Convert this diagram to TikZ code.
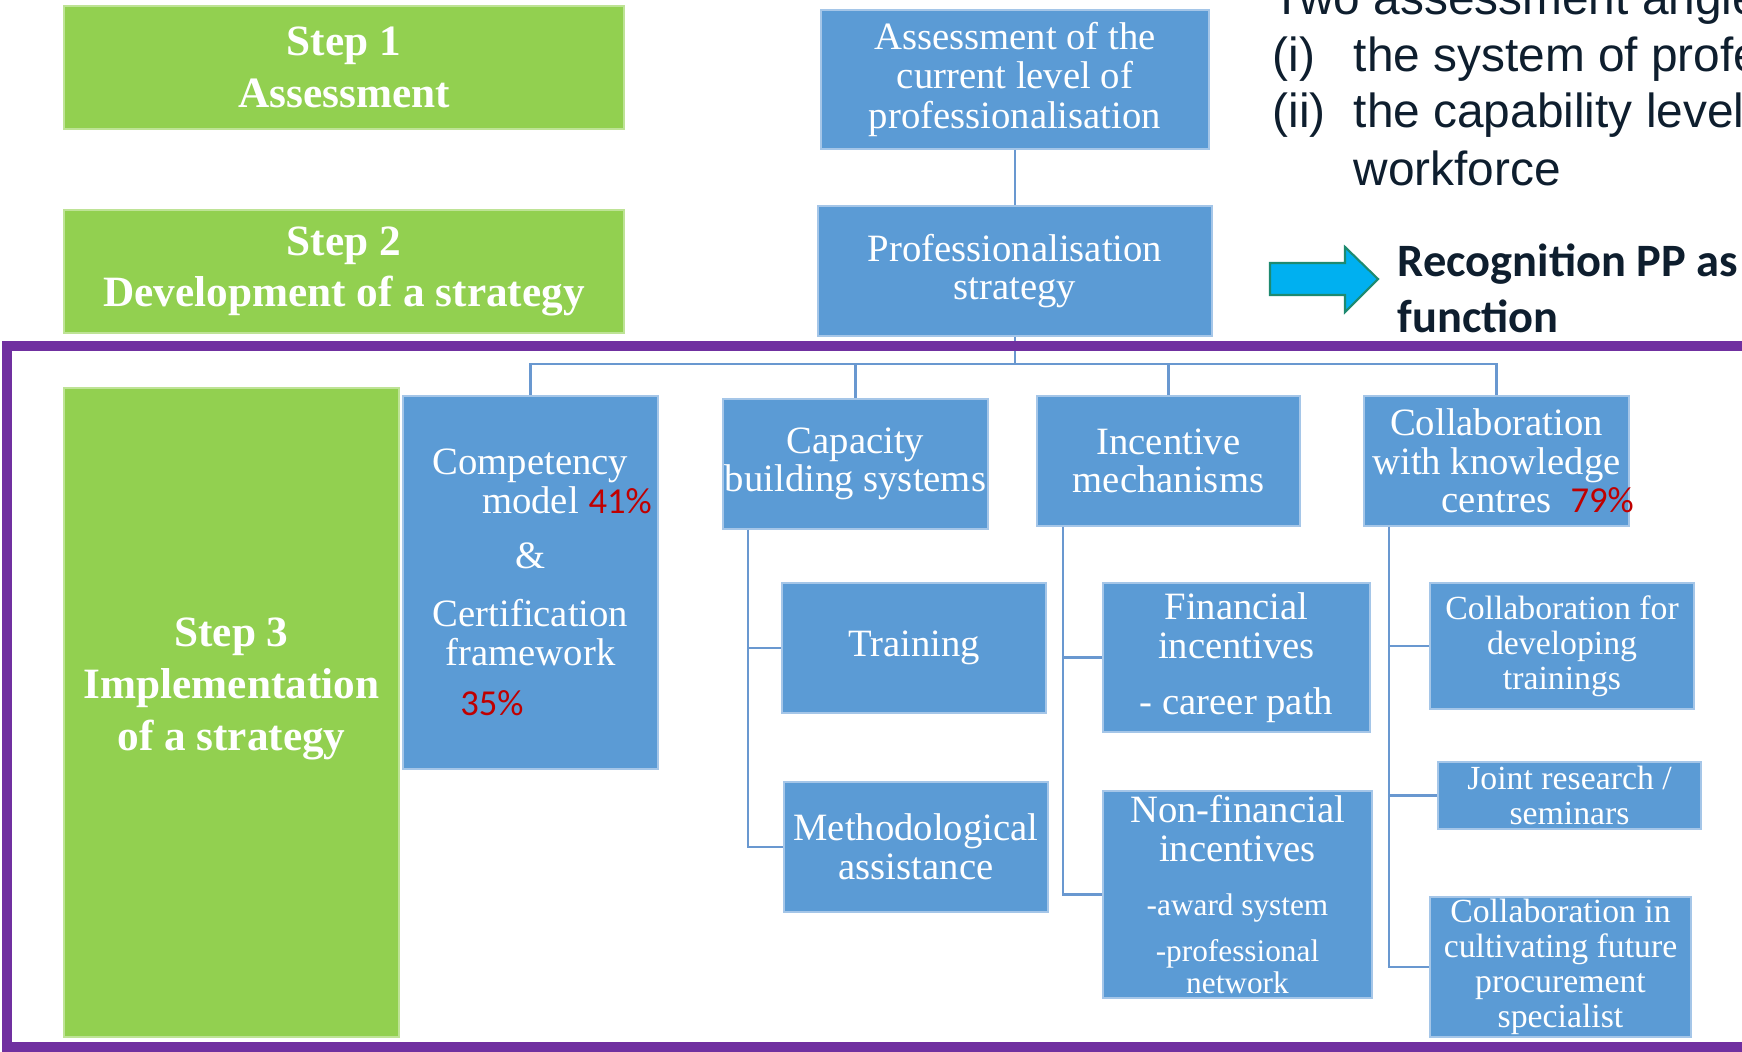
\documentclass[tikz,border=0pt]{standalone}
\usepackage{fontspec}
\setmainfont{Liberation Serif}
\newfontfamily\arialfont{Liberation Sans}
\newfontfamily\calfont{Carlito}

\definecolor{boxblue}{RGB}{91,155,213}
\definecolor{boxedge}{RGB}{165,198,232}
\definecolor{stepgreen}{RGB}{146,208,80}
\definecolor{framepurple}{RGB}{112,48,160}
\definecolor{linkblue}{RGB}{105,152,208}
\definecolor{pctred}{RGB}{192,0,0}
\definecolor{navytext}{RGB}{14,30,46}
\definecolor{arrowcyan}{RGB}{0,176,240}
\definecolor{arrowedge}{RGB}{30,138,112}

\newcommand{\pctmark}[1]{{\calfont\fontsize{10.4pt}{12pt}\selectfont\textcolor{pctred}{#1\%}}}

\begin{document}
\begin{tikzpicture}[x=0.01cm,y=-0.01cm,
  bluebox/.style={draw=boxedge,line width=0.5pt,fill=boxblue,text=white,align=center,inner sep=0pt,font=\fontsize{11pt}{11pt}\selectfont},
  smallbox/.style={bluebox,font=\fontsize{9.6pt}{9.9pt}\selectfont},
  stepbox/.style={draw=stepgreen!60!white,line width=0.5pt,fill=stepgreen,text=white,align=center,inner sep=0pt,font=\bfseries\fontsize{12.3pt}{14.6pt}\selectfont},
  link/.style={draw=linkblue,line width=0.8pt},
  note/.style={anchor=base west,inner sep=0pt,text=navytext,font=\arialfont\fontsize{13.6pt}{16pt}\selectfont},
  keynote/.style={anchor=base west,inner sep=0pt,text=navytext,font=\calfont\bfseries\fontsize{13.2pt}{16pt}\selectfont}]
   \useasboundingbox (0,0) rectangle (1742,1052);
   \fill[white] (0,0) rectangle (1742,1052);

   % ステップ
   \node[stepbox,minimum width=5.6cm,minimum height=1.23cm] (step1) at (344,67.5) {Step 1\\Assessment};
   \node[stepbox,minimum width=5.6cm,minimum height=1.23cm] (step2) at (344,271.5) {Step 2\\Development of a strategy};
   \node[stepbox,minimum width=3.35cm,minimum height=6.49cm] (step3) at (231.5,712.5) {};
   \node[stepbox,draw=none,fill=none,font=\bfseries\fontsize{12.3pt}{14.8pt}\selectfont] (step3txt) at (231.5,689) {Step 3\\Implementation\\of a strategy};

   % 上の箱
   \node[bluebox,minimum width=3.88cm,minimum height=1.39cm,font=\fontsize{11pt}{11.3pt}\selectfont] (assess) at (1015,79.5) {Assessment of the\\current level of\\professionalisation};
   \node[bluebox,minimum width=3.94cm,minimum height=1.30cm] (strat) at (1015,271) {Professionalisation\\strategy};

   % 四つの柱
   \node[bluebox,minimum width=2.55cm,minimum height=3.73cm] (comp) at (530.5,582.5)
      {Competency\\model\rlap{\ \pctmark{41}}\\[4.8pt]\&\\[5.4pt]Certification\\framework\\[3.4pt]\llap{\pctmark{35}\hspace{2pt}}};
   \node[bluebox,minimum width=2.65cm,minimum height=1.30cm] (cap) at (855.5,464) {Capacity\\building systems};
   \node[bluebox,minimum width=2.63cm,minimum height=1.30cm] (incent) at (1168.5,461) {Incentive\\mechanisms};
   \node[bluebox,minimum width=2.65cm,minimum height=1.30cm] (collab) at (1496.5,461) {Collaboration\\with knowledge\\centres\rlap{\ \ \pctmark{79}}};

   % 下の箱
   \node[bluebox,minimum width=2.64cm,minimum height=1.30cm] (train) at (914,648) {Training};
   \node[bluebox,minimum width=2.64cm,minimum height=1.30cm] (method) at (916,847) {Methodological\\assistance};
   \node[bluebox,minimum width=2.67cm,minimum height=1.49cm] (fin) at (1236.5,657.5) {Financial\\incentives\\[5pt]- career path};
   \node[bluebox,minimum width=2.69cm,minimum height=2.07cm] (nonfin) at (1237.5,894.5)
      {Non-financial\\incentives\\[4.3pt]{\fontsize{8.9pt}{8.9pt}\selectfont -award system}\\[2.3pt]{\fontsize{8.9pt}{8.9pt}\selectfont -professional}\\[-2pt]{\fontsize{8.9pt}{8.9pt}\selectfont network}};
   \node[smallbox,minimum width=2.64cm,minimum height=1.26cm] (colldev) at (1562,646) {Collaboration for\\developing\\trainings};
   \node[smallbox,minimum width=2.63cm,minimum height=0.67cm] (joint) at (1569.5,795.5) {Joint research /\\seminars};
   \node[smallbox,minimum width=2.61cm,minimum height=1.40cm,font=\fontsize{9.6pt}{10pt}\selectfont] (cultiv) at (1560.5,967) {Collaboration in\\cultivating future\\procurement\\specialist};

   % 接続線
   \coordinate (bus) at (1015,364);
   \draw[link] (assess) -- (strat);
   \draw[link] (strat) -- (bus);
   \draw[link] (bus) -| (comp);
   \draw[link] (bus) -| (cap);
   \draw[link] (bus) -| (incent);
   \draw[link] (bus) -| (collab);
   \draw[link] ([xshift=0.26cm]cap.south west) |- (train);
   \draw[link] ([xshift=0.26cm]cap.south west) |- (method);
   \draw[link] ([xshift=0.27cm]incent.south west) |- (fin);
   \draw[link] ([xshift=0.27cm]incent.south west) |- (nonfin);
   \draw[link] ([xshift=0.26cm]collab.south west) |- (colldev);
   \draw[link] ([xshift=0.26cm]collab.south west) |- (joint);
   \draw[link] ([xshift=0.26cm]collab.south west) |- (cultiv);

   % 紫の枠
   \draw[framepurple,line width=2.85pt] (7,346) rectangle (1770,1047);

   % 右上の文
   \node[note] (angles) at (1272,15) {Two assessment angle};
   \node[note] (itemi) at (1272,72) {(i)};
   \node[note] (texti) at (1353,72) {the system of profe};
   \node[note] (itemii) at (1272,128) {(ii)};
   \node[note] (textii) at (1353,128) {the capability level};
   \node[note] (textiii) at (1353,186) {workforce};

   \draw[fill=arrowcyan,draw=arrowedge,line width=0.6pt] (1270,263) -- (1345,263) -- (1345,247) -- (1378,279) -- (1345,312) -- (1345,295) -- (1270,295) -- cycle;
   \node[keynote] (recog) at (1397,277) {Recognition PP as};
   \node[keynote] (func) at (1397,333) {function};
\end{tikzpicture}
\end{document}
